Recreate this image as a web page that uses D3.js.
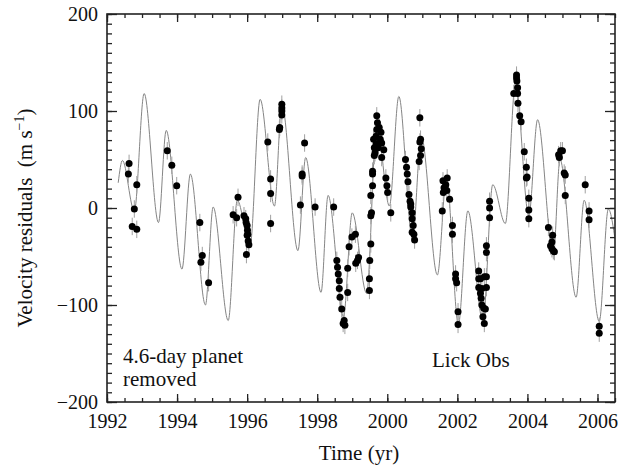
<!DOCTYPE html>
<html>
<head>
<meta charset="utf-8">
<script src="https://cdn.jsdelivr.net/npm/d3@7"></script>
<style>
  body { margin: 0; background: #fff; }
  svg text { font-family: "Liberation Serif", "Times New Roman", serif; fill: #111; }
</style>
</head>
<body>
<div class="graph"></div>
<script>
// fitted orbit curve at its turning points
var modelYears = [1992.32, 1992.44, 1992.78, 1993.06, 1993.47, 1993.69, 1994.14, 1994.38, 1994.81, 1995.03,
  1995.46, 1995.72, 1996.08, 1996.37, 1996.78, 1996.99, 1997.45, 1997.67, 1998.11, 1998.31,
  1998.75, 1999.00, 1999.41, 1999.70, 2000.06, 2000.33, 2000.72, 2000.97, 2001.43, 2001.69,
  2002.03, 2002.30, 2002.73, 2003.01, 2003.37, 2003.66, 2004.04, 2004.29, 2004.74, 2004.93,
  2005.39, 2005.62, 2006.05, 2006.31, 2006.50];
var modelVel = [26, 49, -3, 118, -15, 80, -63, 35, -100, 1,
  -116, 8, -40, 112, 2, 107, -44, 52, -87, 13,
  -112, -5, -88, 86, 2, 115, -32, 74, -69, 30,
  -120, -3, -117, 24, -16, 129, -8, 91, -49, 50,
  -92, 8, -117, -1, -32];

// Lick observations (residuals)
var obsYears = [1992.63, 1992.61, 1992.85, 1992.78, 1992.72, 1992.85, 1993.72, 1993.85, 1993.99,
  1994.65, 1994.72, 1994.68, 1994.90,
  1995.60, 1995.70, 1995.74, 1995.91, 1995.96, 1996.00, 1996.01, 1996.00, 1996.03, 1995.98, 1995.97, 1996.02, 1996.05,
  1996.59, 1996.67, 1996.67, 1996.67, 1996.99, 1996.99, 1996.99, 1996.99, 1996.92, 1996.93,
  1997.64, 1997.57, 1997.57, 1997.52, 1997.94,
  1998.47, 1998.56, 1998.58, 1998.60, 1998.63, 1998.63, 1998.65, 1998.70, 1998.77, 1998.79, 1998.74,
  1998.87, 1998.87, 1998.91, 1998.99, 1999.09, 1999.10, 1999.18, 1999.15,
  1999.49, 1999.49, 1999.50, 1999.53, 1999.53, 1999.55, 1999.53, 1999.58, 1999.58, 1999.58,
  1999.63, 1999.63, 1999.61, 1999.68, 1999.70, 1999.72, 1999.70, 1999.77, 1999.82, 1999.80,
  1999.84, 1999.74, 1999.90, 1999.84, 1999.96, 1999.99, 2000.01, 2000.10, 1999.68, 1999.65,
  2000.93, 2000.95, 2000.93, 2000.97, 2000.95, 2000.91,
  2000.52, 2000.55, 2000.57, 2000.59, 2000.62, 2000.65, 2000.67, 2000.71, 2000.71, 2000.74, 2000.71, 2000.76, 2000.78, 2000.67,
  2001.59, 2001.62, 2001.67, 2001.71, 2001.60, 2001.70, 2001.57, 2001.78, 2001.86, 2001.86,
  2001.95, 2001.95, 2001.98, 2002.02, 2002.02,
  2002.92, 2002.92, 2002.92, 2002.83, 2002.83, 2002.83, 2002.83, 2002.77,
  2002.61, 2002.61, 2002.61, 2002.66, 2002.68, 2002.70, 2002.75, 2002.80, 2002.73, 2002.77, 2002.70, 2002.66,
  2003.69, 2003.69, 2003.70, 2003.72, 2003.61, 2003.72, 2003.73, 2003.78, 2003.82,
  2003.91, 2003.97, 2003.97, 2003.99, 2004.04, 2004.04, 2004.04,
  2004.60, 2004.72, 2004.70, 2004.66, 2004.70, 2004.74, 2004.77,
  2004.89, 2004.95, 2005.00, 2004.91, 2005.05, 2005.08, 2005.08,
  2005.65, 2005.76, 2005.76, 2006.05, 2006.05];
var obsVel = [46, 35, 24, -1, -19, -22, 59, 44, 23,
  -15, -49, -56, -77,
  -7, -10, 11, -8, -11, -18, -23, -28, -34, -48, -15, -27, -38,
  68, 30, 15, -16, 107, 103, 100, 96, 81, 83,
  67, 35, 33, 3, 1,
  1, -54, -61, -68, -75, -83, -92, -104, -116, -121, -119,
  -87, -62, -40, -30, -27, -57, -51, -54,
  -85, -73, -54, -37, -8, -5, 13, 23, 35, 38,
  54, 62, 71, 74, 81, 88, 95, 83, 78, 71,
  67, 62, 60, 52, 31, 23, 16, -5, 66, 57,
  93, 71, 68, 61, 54, 48,
  50, 42, 35, 27, 14, 7, 1, -5, -11, -18, -25, -27, -33, 4,
  28, 21, 24, 31, 16, 18, -3, 9, -18, -27,
  -68, -73, -77, -107, -120,
  7, 0, -10, -39, -46, -71, -82, -71,
  -65, -73, -82, -88, -93, -100, -103, -104, -112, -119, -83, -73,
  137, 134, 131, 124, 118, 118, 108, 95, 89,
  58, 42, 31, 32, 10, -2, -11,
  -20, -28, -35, -39, -42, -44, -45,
  55, 59, 59, 52, 36, 34, 13,
  24, -3, -12, -122, -129];
var obsErr = 9;

var yearTicks = d3.range(1992, 2007, 2);
var velTicks = [-200, -100, 0, 100, 200];

var W = 618, H = 465;
var margin = { top: 14, right: 3, bottom: 63, left: 107 };
var serif = '"Liberation Serif", "Times New Roman", serif';

var x = d3.scaleLinear().domain([1992, 2006.5]).range([margin.left, W - margin.right]);
var y = d3.scaleLinear().domain([-200, 200]).range([H - margin.bottom, margin.top]);

var svg = d3.select(".graph").append("svg")
  .attr("width", W)
  .attr("height", H)
  .attr("font-family", serif);

svg.append("defs").append("clipPath").attr("id", "clip")
  .append("rect")
  .attr("x", x.range()[0]).attr("y", y.range()[1])
  .attr("width", x.range()[1] - x.range()[0])
  .attr("height", y.range()[0] - y.range()[1]);

var plot = svg.append("g").attr("clip-path", "url(#clip)");

// model curve
var line = d3.line()
  .x(function(d, i) { return x(modelYears[i]); })
  .y(function(d) { return y(d); })
  .curve(d3.curveMonotoneX);

plot.append("path")
  .datum(modelVel)
  .attr("d", line)
  .attr("fill", "none")
  .attr("stroke", "#858585")
  .attr("stroke-width", 1);

// error bars then dots
plot.selectAll(".err").data(obsVel).enter().append("line")
  .attr("class", "err")
  .attr("x1", function(d, i) { return x(obsYears[i]); })
  .attr("x2", function(d, i) { return x(obsYears[i]); })
  .attr("y1", function(d) { return y(d - obsErr); })
  .attr("y2", function(d) { return y(d + obsErr); })
  .attr("stroke", "#a0a0a0")
  .attr("stroke-width", 1);

plot.selectAll(".pt").data(obsVel).enter().append("circle")
  .attr("class", "pt")
  .attr("cx", function(d, i) { return x(obsYears[i]); })
  .attr("cy", function(d) { return y(d); })
  .attr("r", 3.5)
  .attr("fill", "#000");

// axes, ticks pointing inward
var bottom = H - margin.bottom, right = W - margin.right;
var minorX = d3.range(1992, 2006.6, 0.5), minorY = d3.range(-200, 201, 10);

function addAxis(axis, tx, ty) {
  var g = svg.append("g").attr("transform", "translate(" + tx + "," + ty + ")").call(axis);
  g.attr("font-family", serif).attr("font-size", 20);
  g.select(".domain").remove();
  g.selectAll(".tick line").attr("stroke", "#222").attr("stroke-width", 1.3);
  g.selectAll(".tick text").attr("fill", "#111");
  return g;
}

addAxis(d3.axisBottom(x).tickValues(minorX).tickSize(-4).tickFormat(""), 0, bottom);
addAxis(d3.axisTop(x).tickValues(minorX).tickSize(-4).tickFormat(""), 0, margin.top);
addAxis(d3.axisLeft(y).tickValues(minorY).tickSize(-5).tickFormat(""), margin.left, 0);
addAxis(d3.axisRight(y).tickValues(minorY).tickSize(-5).tickFormat(""), right, 0);

addAxis(d3.axisBottom(x).tickValues(yearTicks).tickSize(-8).tickPadding(12).tickFormat(d3.format("d")), 0, bottom);
addAxis(d3.axisTop(x).tickValues(yearTicks).tickSize(-8).tickFormat(""), 0, margin.top);
addAxis(d3.axisLeft(y).tickValues(velTicks).tickSize(-10).tickPadding(9).tickFormat(d3.format("d")), margin.left, 0);
addAxis(d3.axisRight(y).tickValues(velTicks).tickSize(-10).tickFormat(""), right, 0);

svg.append("rect")
  .attr("x", margin.left).attr("y", margin.top)
  .attr("width", right - margin.left).attr("height", bottom - margin.top)
  .attr("fill", "none").attr("stroke", "#222").attr("stroke-width", 1.6);

// labels
svg.append("text")
  .attr("x", (margin.left + right) / 2 - 2).attr("y", 460)
  .attr("text-anchor", "middle").attr("font-size", 21)
  .text("Time (yr)");

var yt = svg.append("text")
  .attr("transform", "translate(32," + 218 + ") rotate(-90)")
  .attr("text-anchor", "middle").attr("font-size", 21)
  .style("white-space", "pre");
yt.append("tspan").text("Velocity residuals  (m s");
yt.append("tspan").attr("font-size", 14).attr("dy", -8).text("\u22121");
yt.append("tspan").attr("dy", 8).text(")");

var note = svg.append("text").attr("font-size", 21);
note.append("tspan").attr("x", 123).attr("y", 363).text("4.6-day planet");
note.append("tspan").attr("x", 123).attr("y", 386).text("removed");

svg.append("text")
  .attr("x", 432).attr("y", 367).attr("font-size", 21)
  .text("Lick Obs");
</script>
</body>
</html>
